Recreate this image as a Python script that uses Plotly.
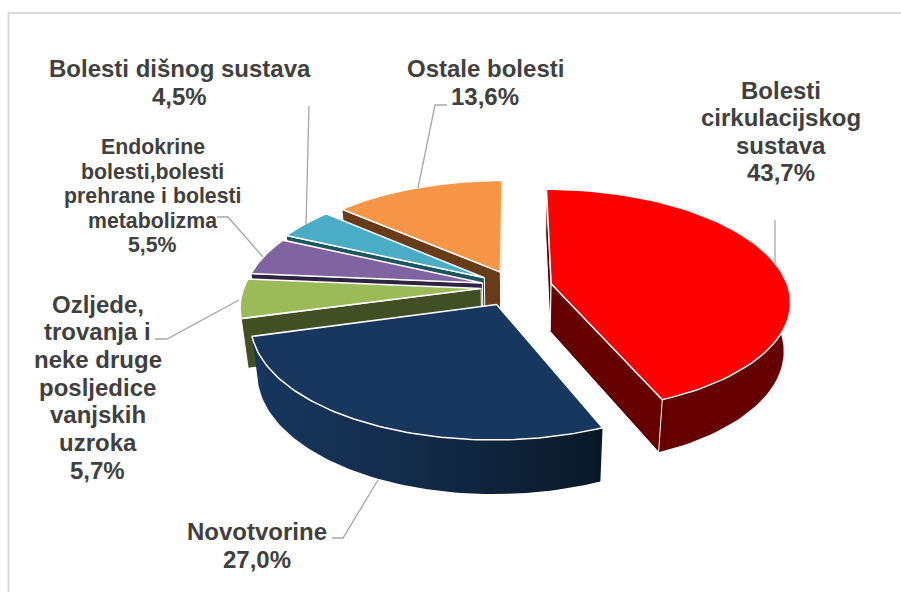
import numpy as np
import plotly.graph_objects as go

categories = ["Bolesti cirkulacijskog sustava", "Novotvorine",
              "Ozljede, trovanja i neke druge posljedice vanjskih uzroka",
              "Endokrine bolesti,bolesti prehrane i bolesti metabolizma",
              "Bolesti dišnog sustava", "Ostale bolesti"]
values = [43.7, 27.0, 5.7, 5.5, 4.5, 13.6]

label_lines = [["Bolesti", "cirkulacijskog", "sustava"],
               ["Novotvorine"],
               ["Ozljede,", "trovanja i", "neke druge", "posljedice", "vanjskih", "uzroka"],
               ["Endokrine", "bolesti,bolesti", "prehrane i bolesti", "metabolizma"],
               ["Bolesti dišnog sustava"],
               ["Ostale bolesti"]]

top_colors = ["#ff0000", "#17375e", "#9bbb59", "#8064a2", "#4bacc6", "#f79646"]
wall_colors = ["#660000", "#16365c", "#404f24", "#2f2343", "#1a5562", "#683c18"]
explode = [37, 41, 34, 34, 37, 36]
paint_order = [5, 4, 3, 2, 0, 1]

# view settings of the tilted pie
CX, CY, R, K, H, PERSP, SHRINK = 515, 287, 237, 0.462, 48, 0.15 / 238, 0.025
# label placement: centre x, first-line y, line spacing, font size
label_style = [(781, 90, 27.5, 24), (257, 531, 28, 24), (97.5, 304, 27.7, 24),
               (152.5, 147, 24.6, 21.3), (179.5, 68, 28, 24), (485, 68, 28, 24)]
leaders = [([775, 775], [220, 265]),
           ([332, 343, 378], [538, 538, 480]),
           ([155, 167, 239], [339, 339, 300]),
           ([217, 228, 263], [217, 217, 257]),
           ([309, 306], [106, 225]),
           ([447, 435, 418], [105, 105, 188])]


def project(xw, yw, level):
    xw, yw = np.asarray(xw, float), np.asarray(yw, float)
    p = 1 / (1 + PERSP * yw)
    s = 1 - SHRINK * level
    return CX + xw * p * s, CY - yw * K * p * s + H * p * level


def poly(fig, x, y, color, lw=0, gradient=None):
    kw = dict(fillgradient=gradient) if gradient else dict(fillcolor=color)
    fig.add_trace(go.Scatter(x=np.r_[x, x[0]], y=np.r_[y, y[0]], mode="lines", fill="toself",
                             line=dict(color="#ffffff", width=lw), hoverinfo="skip",
                             showlegend=False, **kw))


fig = go.Figure()
edges = np.cumsum([0] + values) / sum(values) * 2 * np.pi

for i in paint_order:
    t0, t1 = edges[i], edges[i + 1]
    mid = (t0 + t1) / 2
    ox, oy = explode[i] * np.sin(mid), explode[i] * np.cos(mid)
    t = np.linspace(t0, t1, 80)
    ax, ay = ox + R * np.sin(t), oy + R * np.cos(t)
    grad = None
    if i == 1:
        grad = dict(type="horizontal", colorscale=[[0, "#17375e"], [0.45, "#132b4a"], [1, "#0a1826"]])
    # outer curved wall
    x0, y0 = project(ax, ay, 0)
    x1, y1 = project(ax, ay, 1)
    poly(fig, np.r_[x0, x1[::-1]], np.r_[y0, y1[::-1]], wall_colors[i], 0, grad)
    # radial walls that face the viewer
    for j, facing in ((0, np.sin(t0) <= 0.01), (-1, np.sin(t1) >= -0.01)):
        if not facing:
            continue
        wx = np.array([ox, ax[j]])
        wy = np.array([oy, ay[j]])
        a0, b0 = project(wx, wy, 0)
        a1, b1 = project(wx, wy, 1)
        poly(fig, np.r_[a0, a1[::-1]], np.r_[b0, b1[::-1]], wall_colors[i], 1)
    # top face
    px, py = project(np.r_[ox, ax], np.r_[oy, ay], 0)
    poly(fig, px, py, top_colors[i], 1.5)

for lx, ly in leaders:
    fig.add_trace(go.Scatter(x=lx, y=ly, mode="lines", line=dict(color="#a6a6a6", width=1.3),
                             hoverinfo="skip", showlegend=False))

for i, lines in enumerate(label_lines):
    x, y, gap, size = label_style[i]
    pct = f"{values[i]:.1f}%".replace(".", ",")
    for n, line in enumerate(lines + [pct]):
        fig.add_annotation(x=x, y=y + n * gap, text=f"<b>{line}</b>", showarrow=False,
                           xanchor="center", yanchor="middle", xref="x", yref="y",
                           font=dict(family="Liberation Sans", size=size, color="#404040"))

fig.add_shape(type="rect", x0=8.5, y0=13, x1=920, y1=620, xref="x", yref="y",
              line=dict(color="#d9d9d9", width=2), layer="below")
fig.update_layout(width=901, height=592, margin=dict(l=0, r=0, t=0, b=0), showlegend=False,
                  paper_bgcolor="#ffffff", plot_bgcolor="#ffffff",
                  xaxis=dict(range=[0, 901], visible=False),
                  yaxis=dict(range=[592, 0], visible=False))
fig.write_html("out.html", config={"displayModeBar": False},
               post_script="document.body.style.margin='0';document.body.style.overflow='hidden';")
